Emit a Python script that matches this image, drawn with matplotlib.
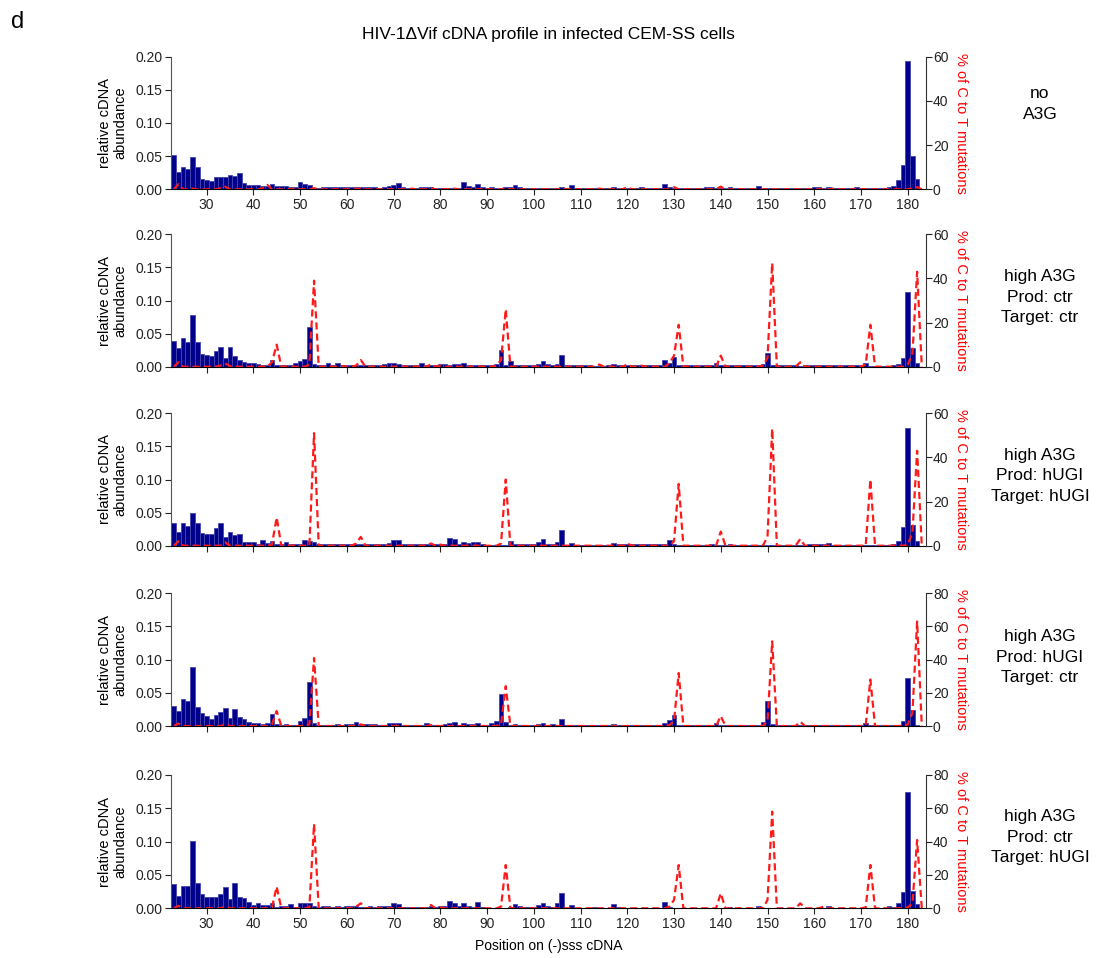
import numpy as np
import matplotlib
matplotlib.use("Agg")
import matplotlib.pyplot as plt

plt.rcParams['font.family'] = ['Liberation Sans', 'DejaVu Sans']

positions = list(range(23, 184))

# relative cDNA abundance (bars), positions 23..183
ab_noA3G = [
    0.052, 0.026, 0.033, 0.030, 0.048, 0.033, 0.015,
    0.014, 0.013, 0.018, 0.019, 0.019, 0.021, 0.020, 0.024, 0.010, 0.007,
    0.007, 0.006, 0.005, 0.005, 0.008, 0.005, 0.005, 0.005, 0.004, 0.004,
    0.011, 0.008, 0.007, 0.002, 0.002, 0.003, 0.004, 0.003, 0.003, 0.003,
    0.004, 0.004, 0.003, 0.003, 0.003, 0.003, 0.003, 0.002, 0.003, 0.005,
    0.007, 0.009, 0.003, 0.002, 0.002, 0.002, 0.004, 0.004, 0.003, 0.002,
    0.002, 0.002, 0.002, 0.002, 0.002, 0.011, 0.005, 0.004, 0.008, 0.003,
    0.002, 0.003, 0.002, 0.002, 0.003, 0.004, 0.006, 0.003, 0.002, 0.002,
    0.002, 0.002, 0.002, 0.002, 0.002, 0.002, 0.003, 0.002, 0.007, 0.002,
    0.002, 0.002, 0.002, 0.002, 0.002, 0.002, 0.002, 0.003, 0.002, 0.002,
    0.002, 0.002, 0.002, 0.003, 0.002, 0.002, 0.002, 0.002, 0.008, 0.004,
    0.002, 0.002, 0.002, 0.002, 0.002, 0.002, 0.002, 0.004, 0.003, 0.002,
    0.002, 0.002, 0.004, 0.002, 0.002, 0.002, 0.002, 0.002, 0.005, 0.002,
    0.002, 0.002, 0.002, 0.002, 0.002, 0.002, 0.002, 0.002, 0.002, 0.002,
    0.004, 0.003, 0.002, 0.003, 0.002, 0.002, 0.002, 0.002, 0.002, 0.003,
    0.002, 0.002, 0.002, 0.002, 0.002, 0.002, 0.003, 0.005, 0.014, 0.037,
    0.193, 0.050, 0.016, 0.0,
]
mut_noA3G = [
    0, 2.3, 0, 0, 0.3, 0, 0,
    0, 0, 0, 0.5, 1.2, 0, 0, 0, 0, 0,
    0, 0, 0.5, 2, 0, 0, 0, 0, 0, 0.3,
    0, 0, 0, 0.5, 0, 0, 0, 0, 0, 0,
    0, 0.3, 0, 0.5, 0, 0, 0, 0, 0, 0,
    0, 0, 0, 0, 0.3, 0, 0, 0, 0.5, 0,
    0, 0, 0, 0.3, 0, 0, 0, 0, 0, 0,
    0, 0, 0, 0, 0.5, 0, 0, 0, 0, 0,
    0, 0, 0, 0, 0, 0, 0, 0, 0, 0,
    0, 0, 0, 0, 0.3, 0, 0, 0, 0, 0,
    1, 0, 0, 0, 0, 0, 0, 0, 0, 0,
    1, 0, 0, 0, 0, 0, 0, 0, 0, 0,
    1.2, 0, 0, 0, 0, 0, 0, 0, 0, 0,
    0, 0, 0, 0, 0, 0, 0, 0, 0, 0,
    0, 0, 0, 0, 0.3, 0, 0, 0, 0, 0,
    0, 0, 0, 0, 0, 0, 0, 0, 0, 0,
    0, 0.5, 1, 0,
]

ab_ctr_ctr = [
    0.039, 0.029, 0.044, 0.037, 0.078, 0.037, 0.019,
    0.018, 0.016, 0.023, 0.030, 0.013, 0.030, 0.016, 0.010, 0.007, 0.005,
    0.005, 0.004, 0.003, 0.002, 0.010, 0.002, 0.003, 0.003, 0.003, 0.006,
    0.008, 0.011, 0.060, 0.004, 0.002, 0.002, 0.006, 0.003, 0.006, 0.003,
    0.002, 0.002, 0.003, 0.002, 0.003, 0.002, 0.002, 0.002, 0.004, 0.005,
    0.005, 0.004, 0.002, 0.002, 0.002, 0.002, 0.006, 0.002, 0.003, 0.003,
    0.004, 0.004, 0.003, 0.004, 0.004, 0.006, 0.003, 0.002, 0.002, 0.002,
    0.002, 0.002, 0.004, 0.025, 0.003, 0.008, 0.003, 0.002, 0.002, 0.002,
    0.002, 0.004, 0.008, 0.004, 0.002, 0.004, 0.017, 0.002, 0.002, 0.002,
    0.002, 0.002, 0.002, 0.001, 0.001, 0.001, 0.003, 0.004, 0.003, 0.002,
    0.002, 0.002, 0.002, 0.002, 0.003, 0.002, 0.002, 0.002, 0.010, 0.005,
    0.014, 0.002, 0.002, 0.002, 0.002, 0.002, 0.002, 0.002, 0.002, 0.005,
    0.002, 0.002, 0.002, 0.002, 0.002, 0.002, 0.002, 0.002, 0.003, 0.004,
    0.020, 0.003, 0.002, 0.002, 0.002, 0.002, 0.002, 0.001, 0.002, 0.002,
    0.002, 0.002, 0.002, 0.003, 0.002, 0.002, 0.002, 0.002, 0.002, 0.002,
    0.002, 0.005, 0.001, 0.001, 0.001, 0.001, 0.001, 0.002, 0.004, 0.013,
    0.113, 0.029, 0.005, 0.0,
]
mut_ctr_ctr = [
    0, 2, 0, 0, 0, 0, 0,
    0, 0, 0, 0.5, 1.5, 0.3, 0, 0, 0, 0,
    0, 0, 0, 0, 2, 10, 0, 0, 0, 0,
    0, 0, 1, 39, 0, 0, 0, 0, 0, 0.3,
    0, 0, 0.5, 3, 0, 0, 0, 0, 0, 0,
    0, 0, 0, 0, 0.3, 0, 0, 0, 1, 0,
    0.5, 0, 0, 0, 0, 0, 0, 0, 0, 0,
    0, 0, 0.5, 3, 26, 0, 0, 0, 0, 0,
    0, 0, 0, 0, 0, 0, 0, 0, 0, 0,
    0, 0, 0, 0, 1, 0, 0, 0, 0, 0,
    1, 0, 0, 0.5, 0, 0, 0, 0, 0, 1.5,
    5, 19, 0, 0, 0, 0, 0, 0, 0, 0,
    5, 0, 0, 0, 0, 0, 0, 0, 0, 0.5,
    4, 47, 0, 0, 0, 0, 0, 2, 0, 0,
    0, 0, 0, 0, 0, 0, 0, 0, 0, 0,
    0, 1, 19, 0, 0, 0, 0, 0, 0, 0,
    1, 6, 43, 0,
]

ab_hugi_hugi = [
    0.034, 0.020, 0.035, 0.030, 0.049, 0.034, 0.019,
    0.018, 0.017, 0.026, 0.034, 0.013, 0.021, 0.016, 0.018, 0.006, 0.006,
    0.005, 0.003, 0.008, 0.004, 0.007, 0.002, 0.003, 0.006, 0.002, 0.002,
    0.003, 0.009, 0.007, 0.005, 0.003, 0.003, 0.003, 0.003, 0.003, 0.002,
    0.003, 0.003, 0.002, 0.002, 0.002, 0.003, 0.002, 0.002, 0.002, 0.004,
    0.008, 0.008, 0.002, 0.002, 0.002, 0.002, 0.002, 0.002, 0.002, 0.002,
    0.002, 0.002, 0.011, 0.010, 0.003, 0.006, 0.004, 0.0055, 0.006, 0.002,
    0.001, 0.001, 0.001, 0.001, 0.001, 0.0065, 0.003, 0.003, 0.002, 0.002,
    0.003, 0.005, 0.0096, 0.003, 0.002, 0.0055, 0.024, 0.001, 0.0035, 0.001,
    0.001, 0.001, 0.001, 0.001, 0.001, 0.001, 0.001, 0.004, 0.002, 0.002,
    0.002, 0.002, 0.002, 0.002, 0.002, 0.002, 0.002, 0.002, 0.002, 0.0085,
    0.002, 0.001, 0.001, 0.001, 0.001, 0.001, 0.001, 0.001, 0.002, 0.001,
    0.001, 0.001, 0.002, 0.001, 0.001, 0.001, 0.001, 0.001, 0.001, 0.0015,
    0.001, 0.001, 0.001, 0.001, 0.001, 0.001, 0.001, 0.001, 0.001, 0.002,
    0.002, 0.002, 0.002, 0.0035, 0.001, 0.001, 0.001, 0.001, 0.001, 0.001,
    0.001, 0.001, 0.001, 0.001, 0.001, 0.001, 0.001, 0.002, 0.0075, 0.028,
    0.178, 0.031, 0.0075, 0.0,
]
mut_hugi_hugi = [
    0, 2, 0, 0, 0, 0, 0,
    0, 0, 0, 0, 1.5, 0, 0, 0, 0, 0,
    0, 0, 0, 0, 0.5, 12.8, 0, 0, 0, 0,
    0, 0, 0, 51, 0, 0, 0, 0, 0, 0,
    0, 0, 1, 4, 0, 0, 0, 0, 0, 0,
    0, 0, 0, 0, 0, 0, 0, 0, 1, 0,
    0.5, 0, 0, 0, 0, 0, 0, 0, 0, 0,
    0, 0, 0, 1, 30, 0, 0, 0, 0, 0,
    0, 0, 0, 0, 0, 0, 0, 0, 0, 0,
    0, 0, 0, 0, 0, 0, 0, 0, 0, 0,
    1, 0, 0, 0, 0, 0, 0, 0, 0, 0,
    2, 28, 0, 0, 0, 0, 0, 0, 0, 0,
    6.4, 0, 0, 0, 0, 0, 0, 0, 0, 0,
    4, 53, 0, 0, 0, 0, 0, 3, 0, 0,
    0, 0, 0, 0, 0, 0, 0, 0, 0, 0,
    0, 0, 30, 0, 0, 0, 0, 0, 0, 0,
    0.5, 6, 43, 0,
]

ab_hugi_ctr = [
    0.030, 0.022, 0.041, 0.037, 0.089, 0.029, 0.020,
    0.015, 0.011, 0.016, 0.021, 0.027, 0.012, 0.026, 0.013, 0.010, 0.006,
    0.005, 0.004, 0.0035, 0.0045, 0.018, 0.003, 0.002, 0.003, 0.002, 0.002,
    0.008, 0.012, 0.067, 0.005, 0.002, 0.002, 0.001, 0.001, 0.003, 0.002,
    0.003, 0.003, 0.0055, 0.002, 0.003, 0.003, 0.003, 0.002, 0.002, 0.004,
    0.005, 0.005, 0.002, 0.001, 0.001, 0.001, 0.001, 0.004, 0.002, 0.002,
    0.002, 0.003, 0.005, 0.006, 0.002, 0.0045, 0.003, 0.003, 0.0045, 0.002,
    0.002, 0.0045, 0.007, 0.048, 0.0065, 0.002, 0.003, 0.002, 0.002, 0.002,
    0.002, 0.0025, 0.0045, 0.002, 0.003, 0.002, 0.0105, 0.002, 0.002, 0.001,
    0.001, 0.001, 0.001, 0.001, 0.001, 0.001, 0.002, 0.0025, 0.002, 0.001,
    0.001, 0.001, 0.001, 0.001, 0.001, 0.001, 0.001, 0.001, 0.005, 0.0085,
    0.0165, 0.002, 0.001, 0.001, 0.001, 0.001, 0.001, 0.001, 0.002, 0.004,
    0.002, 0.002, 0.001, 0.001, 0.001, 0.001, 0.001, 0.001, 0.002, 0.0065,
    0.037, 0.003, 0.001, 0.001, 0.001, 0.001, 0.001, 0.001, 0.001, 0.001,
    0.002, 0.001, 0.001, 0.002, 0.001, 0.001, 0.001, 0.001, 0.001, 0.001,
    0.002, 0.0045, 0.001, 0.001, 0.001, 0.001, 0.001, 0.001, 0.002, 0.0075,
    0.073, 0.024, 0.002, 0.0,
]
mut_hugi_ctr = [
    0, 1.5, 0, 0, 0, 0, 0,
    0, 0, 0, 0, 1, 0, 0, 0, 0, 0,
    0, 0, 0, 0, 1, 9, 0, 0, 0, 0,
    0, 0, 1, 41, 0, 0, 0, 0, 0, 0,
    0, 0, 0, 1, 0, 0, 0, 0, 0, 0,
    0, 0, 0, 0, 0, 0, 0, 0, 0.5, 0,
    0, 0, 0, 0, 0, 0, 0, 0, 0, 0,
    0, 0, 0, 1, 24, 0, 0, 0, 0, 0,
    0, 0, 0, 0, 0, 0, 0, 0, 0, 0,
    0, 0, 0, 0, 0, 0, 0, 0, 0, 0,
    0, 0, 0, 0, 0, 0, 0, 0, 0, 0.5,
    3, 32, 0, 0, 0, 0, 0, 0, 0, 0,
    6, 0, 0, 0, 0, 0, 0, 0, 0, 0,
    3, 51, 0, 0, 0, 0, 0, 2.6, 0, 0,
    0, 0, 0, 0, 0, 0, 0, 0, 0, 0,
    0, 0.5, 28, 0, 0, 0, 0, 0, 0, 0,
    1, 8, 63, 0,
]

ab_ctr_hugi = [
    0.0365, 0.0185, 0.033, 0.0335, 0.101, 0.0385, 0.021,
    0.017, 0.0165, 0.017, 0.021, 0.0315, 0.0145, 0.038, 0.017, 0.015, 0.0095,
    0.0055, 0.0075, 0.005, 0.0055, 0.0075, 0.002, 0.003, 0.004, 0.006, 0.002,
    0.008, 0.0085, 0.0075, 0.003, 0.002, 0.003, 0.003, 0.002, 0.004, 0.002,
    0.003, 0.003, 0.004, 0.002, 0.002, 0.004, 0.002, 0.003, 0.003, 0.004,
    0.0075, 0.007, 0.002, 0.002, 0.002, 0.002, 0.002, 0.002, 0.003, 0.002,
    0.003, 0.003, 0.0105, 0.0085, 0.003, 0.008, 0.003, 0.002, 0.009, 0.002,
    0.001, 0.001, 0.001, 0.001, 0.001, 0.002, 0.006, 0.003, 0.002, 0.002,
    0.002, 0.0045, 0.008, 0.004, 0.002, 0.008, 0.0225, 0.001, 0.0045, 0.001,
    0.001, 0.001, 0.001, 0.002, 0.001, 0.001, 0.001, 0.006, 0.002, 0.001,
    0.001, 0.001, 0.001, 0.001, 0.001, 0.001, 0.001, 0.001, 0.010, 0.002,
    0.001, 0.001, 0.001, 0.001, 0.001, 0.001, 0.001, 0.001, 0.001, 0.001,
    0.001, 0.001, 0.002, 0.001, 0.001, 0.001, 0.001, 0.001, 0.0035, 0.001,
    0.001, 0.001, 0.001, 0.001, 0.001, 0.001, 0.001, 0.001, 0.001, 0.001,
    0.001, 0.001, 0.001, 0.0035, 0.001, 0.001, 0.001, 0.001, 0.001, 0.001,
    0.001, 0.001, 0.001, 0.001, 0.001, 0.001, 0.0035, 0.002, 0.0085, 0.024,
    0.174, 0.026, 0.0065, 0.0,
]
mut_ctr_hugi = [
    0, 1.5, 0, 0, 0, 0, 0,
    0, 0, 0, 0, 1, 0, 0, 0, 0, 0,
    0, 0, 0, 0, 0.5, 13, 0, 0, 0, 0,
    0, 0, 0.5, 50.6, 0, 0, 0, 0, 0, 0,
    0, 0, 1, 3, 0, 0, 0, 0, 0, 0,
    0, 0, 0, 0, 0, 0, 0, 0, 2, 0,
    0.5, 0, 0, 0, 0, 0, 0, 0, 0, 0,
    0, 0, 0, 1, 26, 0, 0, 0, 0, 0,
    0, 0, 0, 0, 0, 0, 0, 0, 0, 0,
    0, 0, 0, 0, 0, 0, 0, 0, 0, 0,
    0, 0, 0, 0, 0, 0, 0, 0, 0, 1,
    5, 26, 0, 0, 0, 0, 0, 0, 0, 0,
    9, 0, 0, 0, 0, 0, 0, 0, 0, 0,
    5, 58, 0, 0, 0, 0, 0, 3, 0, 0,
    0, 0, 1, 0, 0, 0, 0, 0, 0, 0,
    0, 0.5, 26, 0, 0, 0, 0, 0, 0, 0,
    0.5, 3, 41, 0,
]

panel_labels = ["no\nA3G",
                "high A3G\nProd: ctr\nTarget: ctr",
                "high A3G\nProd: hUGI\nTarget: hUGI",
                "high A3G\nProd: hUGI\nTarget: ctr",
                "high A3G\nProd: ctr\nTarget: hUGI"]
abundances = [ab_noA3G, ab_ctr_ctr, ab_hugi_hugi, ab_hugi_ctr, ab_ctr_hugi]
mutations = [mut_noA3G, mut_ctr_ctr, mut_hugi_hugi, mut_hugi_ctr, mut_ctr_hugi]
right_max = [60, 60, 60, 80, 80]
left_ticks = [0.0, 0.05, 0.10, 0.15, 0.20]
x_ticks = list(range(30, 190, 10))

title = "HIV-1\u0394Vif cDNA profile in infected CEM-SS cells"

W, H = 1099, 958
fig = plt.figure(figsize=(W / 100, H / 100), dpi=100)

ax_left_px, ax_right_px = 171, 926
panel_px = [(56.7, 189.3), (234.3, 366.7), (413.3, 545.7), (593.3, 726.0), (775.0, 908.3)]
label_y_px = [104, 297, 476, 657, 837]

bar_color = '#00008B'
edge_color = '#4646b0'
axis_col = '#222222'

for i in range(5):
    top, bot = panel_px[i]
    ax = fig.add_axes([ax_left_px / W, 1 - bot / H,
                       (ax_right_px - ax_left_px) / W, (bot - top) / H])
    ax.bar(positions, abundances[i], width=1.0, color=bar_color,
           edgecolor=edge_color, linewidth=0.6, zorder=2)
    ax.set_xlim(22.4, 183.9)
    ax.set_ylim(0, 0.2)
    ax.set_yticks(left_ticks)
    ax.set_yticklabels([f"{t:.2f}" for t in left_ticks])
    ax.set_xticks(x_ticks)
    if i in (0, 4):
        ax.set_xticklabels([str(t) for t in x_ticks])
    else:
        ax.set_xticklabels([])
    for s in ('top', 'right'):
        ax.spines[s].set_visible(False)
    ax.spines['left'].set_color('#555555')
    ax.spines['bottom'].set_color('black')
    ax.tick_params(axis='both', direction='out', length=4, width=0.8,
                   labelsize=10, colors=axis_col, pad=2)
    ax.set_ylabel("relative cDNA\nabundance", fontsize=10.5, linespacing=1.1)
    ax.yaxis.set_label_coords(-0.058, 0.5)

    ax2 = ax.twinx()
    ax2.plot(positions, mutations[i], color='#ff1a1a', lw=1.6,
             linestyle=(0, (3.2, 1.8)), zorder=3)
    ax2.set_ylim(0, right_max[i])
    ax2.set_yticks(list(range(0, right_max[i] + 1, 20)))
    for s in ('top', 'left', 'bottom'):
        ax2.spines[s].set_visible(False)
    ax2.spines['right'].set_color('#333333')
    ax2.tick_params(axis='y', direction='out', length=4, width=0.8,
                    labelsize=10, colors=axis_col, pad=1)
    ax2.set_ylabel("% of C to T mutations", color='red', fontsize=10.5,
                   rotation=270, va='center')
    ax2.yaxis.set_label_coords(1.046, 0.5)

    fig.text(1040 / W, 1 - label_y_px[i] / H, panel_labels[i], ha='center',
             va='center', fontsize=12.5, linespacing=1.45, color='black')

    if i == 4:
        ax.set_xlabel("Position on (-)sss cDNA", fontsize=10, labelpad=6)

fig.text(548 / W, 1 - 35 / H, title, ha='center', va='center', fontsize=12.5)
fig.text(18 / W, 1 - 22 / H, "d", ha='center', va='center', fontsize=17)

fig.savefig("out.png", dpi=100)
